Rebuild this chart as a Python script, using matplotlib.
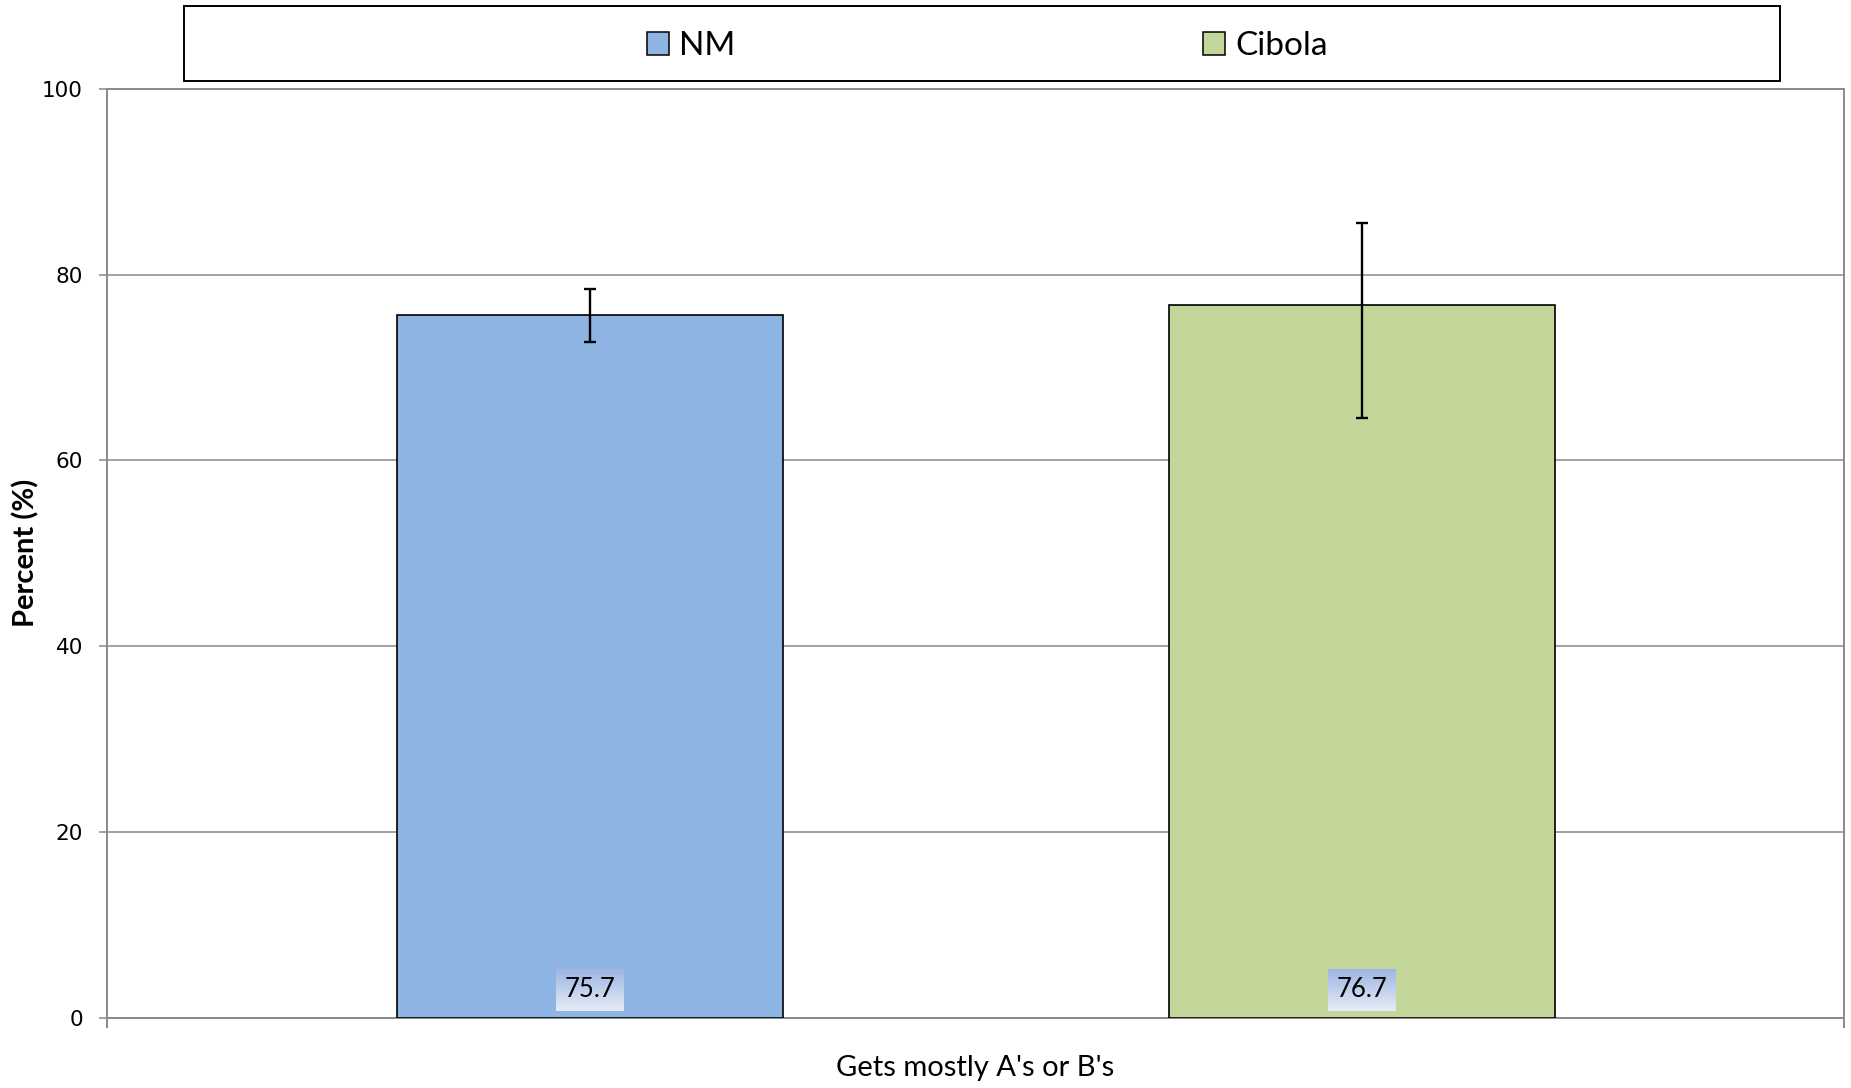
import matplotlib
matplotlib.use('Agg')
import matplotlib.pyplot as plt
import numpy as np
from matplotlib.patches import Rectangle, Patch
from matplotlib.colors import LinearSegmentedColormap

plt.rcParams['font.family'] = ['Lato', 'DejaVu Sans']

# ---- data ----
category = "Gets mostly A's or B's"
series = ["NM", "Cibola"]
values = [75.7, 76.7]
ci_low = [72.7, 64.6]
ci_high = [78.5, 85.6]
value_labels = ["75.7", "76.7"]
bar_colors = ["#8EB4E3", "#C4D79B"]
yticks = [0, 20, 40, 60, 80, 100]

W, H = 1851, 1088
fig = plt.figure(figsize=(W / 100, H / 100), dpi=100)
ax_left, ax_right, ax_top, ax_bottom = 107, 1844, 89, 1017.5
ax = fig.add_axes([ax_left / W, 1 - ax_bottom / H,
                   (ax_right - ax_left) / W, (ax_bottom - ax_top) / H])

grid_c = '#898989'
x = np.arange(len(series))
yerr = [[v - l for v, l in zip(values, ci_low)],
        [h - v for v, h in zip(values, ci_high)]]
ax.bar(x, values, width=0.5, color=bar_colors, edgecolor='black',
       linewidth=1.2, zorder=3)
ax.errorbar(x, values, yerr=yerr, fmt='none', ecolor='black',
            elinewidth=1.7, capsize=4.5, capthick=1.7, zorder=4)

ax.set_xlim(-0.625, 1.625)
ax.set_ylim(0, 100)
ax.set_yticks(yticks)
ax.set_yticklabels([str(t) for t in yticks], family='DejaVu Sans', fontsize=15.5)
ax.set_xticks(list(ax.get_xlim()))
ax.set_xticklabels([])
ax.yaxis.grid(True, color=grid_c, lw=1.1, zorder=0)
ax.set_axisbelow(True)
for s in ['left', 'right', 'bottom', 'top']:
    ax.spines[s].set_color(grid_c)
    ax.spines[s].set_linewidth(1.4)
ax.tick_params(axis='y', length=5.8, width=1.1, color=grid_c, pad=11.5)
ax.tick_params(axis='x', length=7, width=1.4, color=grid_c)

ax.set_xlabel(category, fontsize=21, va='center')
ax.xaxis.set_label_coords(0.5, (ax_bottom - 1068) / (ax_bottom - ax_top))
ax.set_ylabel('Percent (%)', fontsize=21, fontweight='bold', va='center')
ax.yaxis.set_label_coords((26 - ax_left) / (ax_right - ax_left), 0.5)

# value labels at bar base with gradient box
texts = []
for xi, lab in zip(x, value_labels):
    t = ax.annotate(lab, xy=(xi, 0), xytext=(0, 20), textcoords='offset points',
                    ha='center', va='center', fontsize=18.5, zorder=6,
                    bbox=dict(boxstyle='square,pad=0.33', fc='none', ec='none'))
    texts.append(t)

fig.canvas.draw()
renderer = fig.canvas.get_renderer()
grad_cmap = LinearSegmentedColormap.from_list('g', ['#9db6e2', '#e6ecf7'])
grad = np.linspace(0, 1, 64).reshape(-1, 1)
for t in texts:
    bb = t.get_bbox_patch().get_window_extent(renderer)
    (x0, y0), (x1, y1) = ax.transData.inverted().transform([[bb.x0, bb.y0], [bb.x1, bb.y1]])
    ax.imshow(grad, cmap=grad_cmap, extent=[x0, x1, y0, y1], origin='upper',
              aspect='auto', zorder=5, interpolation='bilinear')
ax.set_xlim(-0.625, 1.625)
ax.set_ylim(0, 100)

# legend box
fig.patches.append(Rectangle((184 / W, 1 - 81 / H), (1780 - 184) / W, 75 / H,
                             transform=fig.transFigure, fc='white', ec='black',
                             lw=1.4, zorder=1))
handles = [Patch(facecolor=c, edgecolor='black', linewidth=1.1, label=s)
           for c, s in zip(bar_colors, series)]
fs = 24
fs_px = fs * 100 / 72
fig.legend(handles=handles, ncol=2, loc='center',
           bbox_to_anchor=(987.5 / W, 1 - 46 / H), frameon=False, fontsize=fs,
           handlelength=22 / fs_px, handleheight=22 / fs_px,
           handletextpad=10 / fs_px, columnspacing=468 / fs_px,
           borderpad=0, borderaxespad=0)

fig.savefig('out.png', dpi=100)
